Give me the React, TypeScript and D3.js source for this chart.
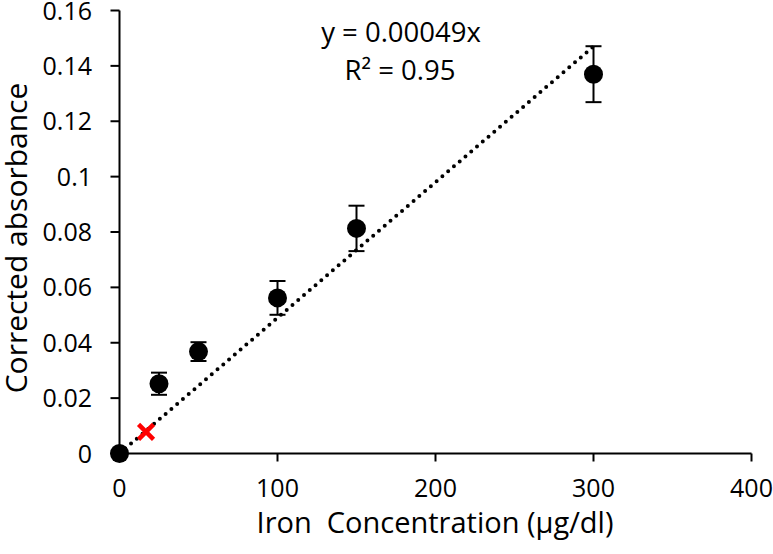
import * as d3 from "d3";

const concentration = [0, 25, 50, 100, 150, 300];
const absorbance = [0, 0.0252, 0.0368, 0.0562, 0.0813, 0.137];
const errors = [0, 0.004, 0.0034, 0.0061, 0.0082, 0.0101];
const unknownPoint = { x: 16.8, y: 0.0078 };
const slope = 0.00049;
const xTicks = [0, 100, 200, 300, 400];
const yTicks = [0, 0.02, 0.04, 0.06, 0.08, 0.1, 0.12, 0.14, 0.16];

const width = 773;
const height = 554;
const font = "'Open Sans', sans-serif";

export default function App() {
  const x = d3.scaleLinear().domain([0, 400]).range([119.5, 751.5]);
  const y = d3.scaleLinear().domain([0, 0.16]).range([453.5, 10.5]);

  const trend = d3.line<number>()
    .x((d) => x(d))
    .y((d) => y(d * slope));

  const fmt = (v: number) => String(+v.toFixed(2));

  return (
    <svg width={width} height={height} style={{ position: "absolute", left: 0, top: 0, background: "#fff" }}>
      {/* axes */}
      <line x1={x(0)} x2={x(400)} y1={y(0)} y2={y(0)} stroke="#000" strokeWidth={2} />
      <line x1={x(0)} x2={x(0)} y1={y(0)} y2={y(0.16)} stroke="#000" strokeWidth={2} />
      {xTicks.map((t) => (
        <g key={t}>
          <line x1={x(t)} x2={x(t)} y1={y(0)} y2={y(0) + 8} stroke="#000" strokeWidth={2} />
          <text x={x(t)} y={497} textAnchor="middle" fontFamily={font} fontSize={25}>{t}</text>
        </g>
      ))}
      {yTicks.map((t) => (
        <g key={t}>
          <line x1={x(0) - 9} x2={x(0)} y1={y(t)} y2={y(t)} stroke="#000" strokeWidth={2} />
          <text x={92} y={y(t) + 9} textAnchor="end" fontFamily={font} fontSize={25}>{fmt(t)}</text>
        </g>
      ))}

      {/* trend line */}
      <path d={trend([0, 300]) ?? ""} fill="none" stroke="#000" strokeWidth={4}
        strokeLinecap="round" strokeDasharray="0 7.6" />

      {/* error bars + points */}
      {concentration.map((c, i) => {
        const cx = x(c);
        const e = errors[i];
        return (
          <g key={c}>
            {e > 0 && (
              <g stroke="#000" strokeWidth={2}>
                <line x1={cx} x2={cx} y1={y(absorbance[i] + e)} y2={y(absorbance[i] - e)} />
                <line x1={cx - 8} x2={cx + 8} y1={y(absorbance[i] + e)} y2={y(absorbance[i] + e)} />
                <line x1={cx - 8} x2={cx + 8} y1={y(absorbance[i] - e)} y2={y(absorbance[i] - e)} />
              </g>
            )}
            <circle cx={cx} cy={y(absorbance[i])} r={9.5} fill="#000" />
          </g>
        );
      })}

      {/* unknown sample */}
      <g transform={`translate(${x(unknownPoint.x)},${y(unknownPoint.y)})`} stroke="#ff0000" strokeWidth={4.5}>
        <line x1={-7.5} y1={-7.5} x2={7.5} y2={7.5} />
        <line x1={-7.5} y1={7.5} x2={7.5} y2={-7.5} />
      </g>

      {/* equation */}
      <text x={401} y={42} textAnchor="middle" fontFamily={font} fontSize={27.5}>y = 0.00049x</text>
      <text x={400} y={80} textAnchor="middle" fontFamily={font} fontSize={27.5}>R² = 0.95</text>

      {/* axis titles */}
      <text x={435} y={533} textAnchor="middle" fontFamily={font} fontSize={29} style={{ whiteSpace: "pre" }}>
        {"Iron  Concentration (μg/dl)"}
      </text>
      <text transform={`translate(27,238) rotate(-90)`} textAnchor="middle" fontFamily={font} fontSize={30}>
        Corrected absorbance
      </text>
    </svg>
  );
}
